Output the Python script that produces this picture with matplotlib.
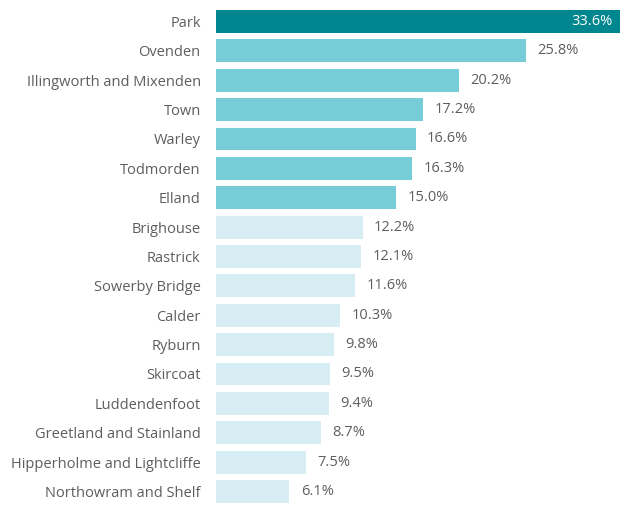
import matplotlib
matplotlib.use("Agg")
import matplotlib.pyplot as plt

categories = ["Park", "Ovenden", "Illingworth and Mixenden", "Town", "Warley", "Todmorden",
              "Elland", "Brighouse", "Rastrick", "Sowerby Bridge", "Calder", "Ryburn",
              "Skircoat", "Luddendenfoot", "Greetland and Stainland",
              "Hipperholme and Lightcliffe", "Northowram and Shelf"]
values = [33.6, 25.8, 20.2, 17.2, 16.6, 16.3, 15.0, 12.2, 12.1, 11.6, 10.3, 9.8, 9.5, 9.4, 8.7, 7.5, 6.1]
labels = ["33.6%", "25.8%", "20.2%", "17.2%", "16.6%", "16.3%", "15.0%", "12.2%", "12.1%",
          "11.6%", "10.3%", "9.8%", "9.5%", "9.4%", "8.7%", "7.5%", "6.1%"]

plt.rcParams['font.family'] = ['Open Sans', 'DejaVu Sans']

dark = "#00868f"
mid = "#76cdd8"
light = "#d6eef3"
text_col = "#605e5c"

colors = [dark] + [mid] * 6 + [light] * 10

fig = plt.figure(figsize=(6.3, 5.05), dpi=100)
ax = fig.add_axes([216 / 630, 0, 404 / 630, (505 - 6.8) / 505])
y = list(range(len(categories)))
ax.barh(y, values, height=0.78, color=colors)
ax.set_xlim(0, 33.6)
ax.set_ylim(16.46, -0.5)
ax.set_yticks(y)
ax.set_yticklabels(categories, fontsize=10.5, color=text_col)
ax.tick_params(axis='y', length=0, pad=11)
ax.set_xticks([])
for s in ax.spines.values():
    s.set_visible(False)

for i, (v, lab) in enumerate(zip(values, labels)):
    if i == 0:
        ax.text(v - 0.6, i, lab, va='center', ha='right', color='white', fontsize=10.5)
    else:
        ax.text(v + 0.95, i, lab, va='center', ha='left', color=text_col, fontsize=10.5)

fig.savefig("out.png", dpi=100)
